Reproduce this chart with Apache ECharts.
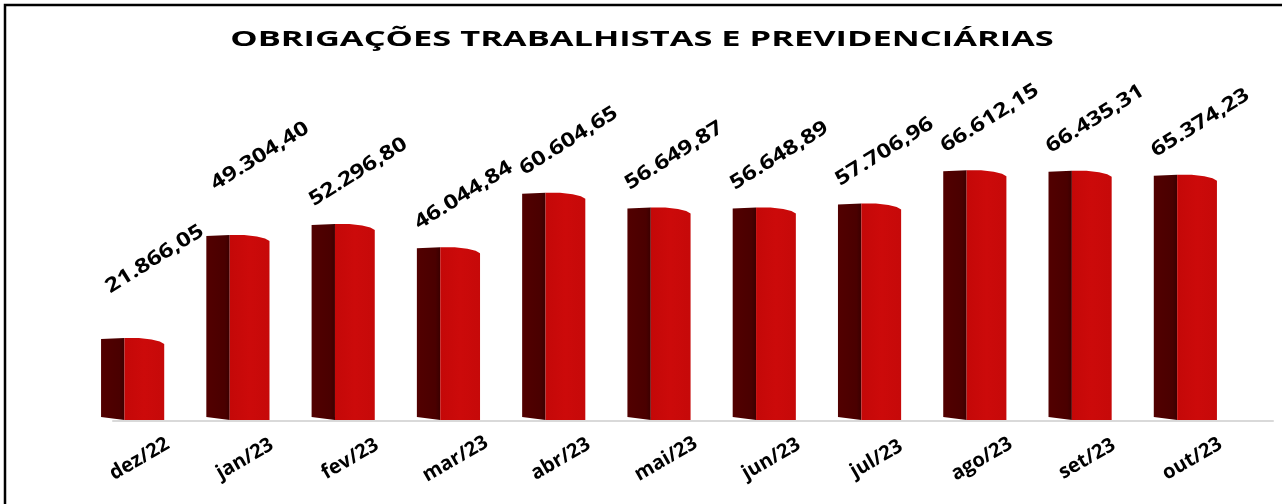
<!DOCTYPE html>
<html>
<head>
<meta charset="utf-8">
<title>Obrigações Trabalhistas e Previdenciárias</title>
<script src="https://cdn.jsdelivr.net/npm/echarts@6/dist/echarts.min.js"></script>
<style>
  html, body { margin: 0; padding: 0; background: #fff; }
  #chart { width: 1282px; height: 504px; }
</style>
</head>
<body>
<div id="chart"></div>
<script>
// dados do gráfico
const categories = ['dez/22', 'jan/23', 'fev/23', 'mar/23', 'abr/23', 'mai/23', 'jun/23', 'jul/23', 'ago/23', 'set/23', 'out/23']
const values = [21866.05, 49304.40, 52296.80, 46044.84, 60604.65, 56649.87, 56648.89, 57706.96, 66612.15, 66435.31, 65374.23]
const titleText = 'OBRIGAÇÕES TRABALHISTAS E PREVIDENCIÁRIAS'

// formato pt-BR: 21.866,05
function fmt(n) {
  const parts = n.toFixed(2).split('.')
  const int = parts[0].replace(/\B(?=(\d{3})+(?!\d))/g, '.')
  return int + ',' + parts[1]
}

const chart = echarts.init(document.getElementById('chart'))

// rótulos que foram arrastados à mão no original (px extra)
const labelNudge = { 'dez/22': [7, -27], 'jan/23': [7, -27] }

function renderBar(params, api) {
  const idx = api.value(0)
  const base = api.coord([idx, 0])
  const top = api.coord([idx, api.value(1)])
  const bw = api.size([1, 0])[0] * 0.6
  const x0 = base[0] - bw / 2
  const x1 = base[0] + bw / 2
  const xd = x0 + bw * 0.37
  const y0 = base[1]
  const y1 = top[1]
  const nudge = labelNudge[categories[idx]] || [0, 0]
  return {
    type: 'group',
    children: [
      {
        type: 'polygon',
        shape: { points: [[x0, y1 + 1], [xd, y1], [xd, y0], [x0, y0 - 3]] },
        style: {
          fill: {
            type: 'linear', x: 0, y: 0, x2: 1, y2: 0,
            colorStops: [
              { offset: 0, color: '#520000' },
              { offset: 0.8, color: '#4a0000' },
              { offset: 1, color: '#3a0000' },
            ],
          },
        },
      },
      {
        type: 'polygon',
        shape: {
          points: [
            [xd, y1], [x0 + bw * 0.6, y1], [x0 + bw * 0.8, y1 + 1.5],
            [x0 + bw * 0.93, y1 + 3.5], [x1, y1 + 6], [x1, y0], [xd, y0],
          ],
        },
        style: {
          fill: {
            type: 'linear', x: 0, y: 0, x2: 1, y2: 0,
            colorStops: [
              { offset: 0, color: '#c40808' },
              { offset: 0.5, color: '#cc0a0a' },
              { offset: 1, color: '#c60909' },
            ],
          },
        },
      },
      {
        type: 'text',
        x: base[0] + 15 + nudge[0],
        y: y1 - 52 + nudge[1],
        rotation: (32 * Math.PI) / 180,
        scaleX: 1.22,
        style: {
          text: fmt(api.value(1)),
          font: 'bold 20px "Open Sans"',
          fill: '#000',
          align: 'center',
          verticalAlign: 'middle',
        },
      },
    ],
  }
}

const option = {
  animation: false,
  graphic: [
    {
      type: 'polyline',
      shape: { points: [[5, 1000], [5, 5], [2000, 5]] },
      style: { stroke: '#000', lineWidth: 2.5, fill: null },
    },
    {
      type: 'text',
      x: 642,
      y: 40,
      scaleX: 1.64,
      style: {
        text: titleText,
        font: 'bold 21px "Open Sans"',
        fill: '#000',
        align: 'center',
        verticalAlign: 'middle',
      },
    },
  ],
  grid: [
    { left: 80, right: 44, top: 120, bottom: 84 },
    // linha do "piso" deslocada pela perspectiva 3D
    { left: 113, right: 9, top: 120, bottom: 83 },
  ],
  xAxis: [
    {
      type: 'category',
      data: categories,
      axisLine: { show: false },
      axisTick: { show: false },
      axisLabel: {
        rotate: 30,
        align: 'center',
        verticalAlign: 'middle',
        margin: 43,
        padding: [0, 0, 0, 16],
        color: '#000',
        fontFamily: 'Open Sans',
        fontWeight: 'bold',
        fontSize: 20,
      },
    },
    {
      type: 'category',
      gridIndex: 1,
      data: categories,
      axisLine: { show: true, lineStyle: { color: '#d9d9d9', width: 2 } },
      axisTick: { show: false },
      axisLabel: { show: false },
    },
  ],
  yAxis: [
    { type: 'value', min: 0, max: 80000, show: false },
    { type: 'value', gridIndex: 1, min: 0, max: 80000, show: false },
  ],
  series: [
    {
      type: 'custom',
      renderItem: renderBar,
      encode: { x: 0, y: 1 },
      data: values.map((v, i) => [i, v]),
    },
  ],
}
chart.setOption(option)
</script>
</body>
</html>
